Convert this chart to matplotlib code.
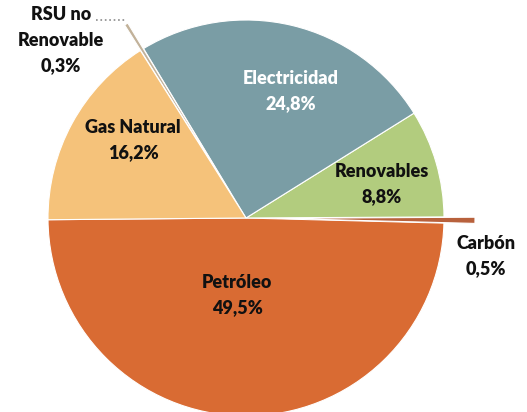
import matplotlib.pyplot as plt

# Datos (orden antihorario desde la izquierda)
fuentes = ['Petróleo', 'Carbón', 'Renovables', 'Electricidad', 'RSU no\nRenovable', 'Gas Natural']
porcentajes = [49.5, 0.5, 8.8, 24.8, 0.3, 16.2]
colores = ['#D96B33', '#B8613C', '#B2CC7E', '#7A9DA5', '#C2B29A', '#F5C27A']

W, H = 527, 412
fig = plt.figure(figsize=(W / 100, H / 100), dpi=100)
ax = fig.add_axes([0, 0, 1, 1])

cx, cy, r = 246, H - 218, 198
# explode va en unidades de datos (píxeles aquí)
separar = [0, 31, 0, 0, 30, 0]
ax.pie(porcentajes, colors=colores, explode=separar, startangle=180.5,
       counterclock=True, center=(cx, cy), radius=r,
       wedgeprops=dict(edgecolor='white', linewidth=0.8))
ax.set_xlim(0, W)
ax.set_ylim(0, H)
ax.set_aspect('equal')
ax.axis('off')

plt.rcParams['font.family'] = ['Lato', 'DejaVu Sans']
fs = 13

def etiqueta(x, y, txt, color='#111111', ha='center'):
    ax.text(x, H - y, txt, ha=ha, va='center', fontsize=fs, fontweight='heavy',
            color=color, linespacing=1.62)

pct = {f: f'{p:.1f}%'.replace('.', ',') for f, p in zip(fuentes, porcentajes)}
etiqueta(291, 91, 'Electricidad\n' + pct['Electricidad'], color='white')
etiqueta(382, 184, 'Renovables\n' + pct['Renovables'])
etiqueta(133, 140, 'Gas Natural\n' + pct['Gas Natural'])
etiqueta(237, 295, 'Petróleo\n' + pct['Petróleo'])
etiqueta(486, 256, 'Carbón\n' + pct['Carbón'])
etiqueta(61, 40, 'RSU no\nRenovable\n' + pct['RSU no\nRenovable'])

# línea guía punteada del RSU
ax.plot([96, 126], [H - 20, H - 20], color='#8a8a8a', linestyle=':', linewidth=1.2)

fig.savefig('out.png', dpi=100)
